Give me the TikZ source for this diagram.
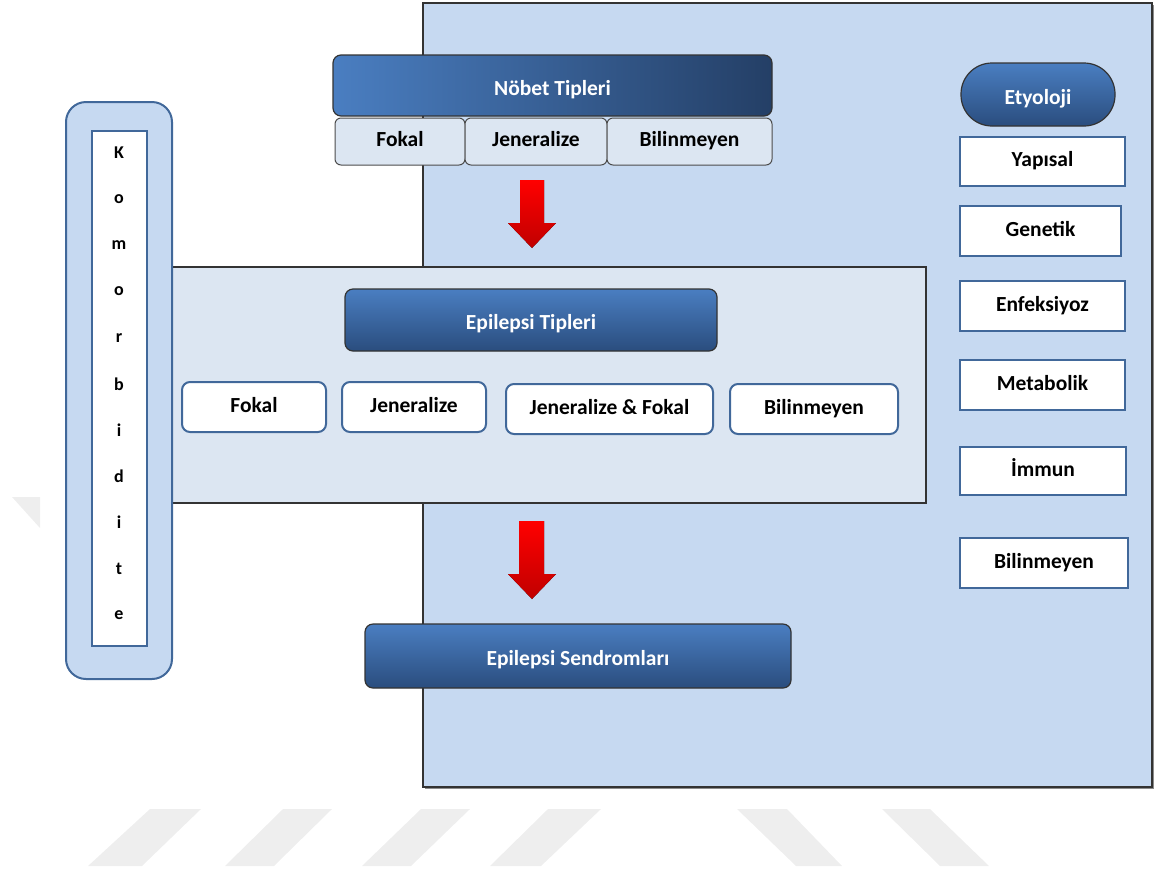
\documentclass[tikz,border=0pt]{standalone}
\usepackage{fontspec}
\setmainfont{Carlito}
\usetikzlibrary{positioning}

\definecolor{panelblue}{HTML}{C6D9F1}
\definecolor{lightpanel}{HTML}{DCE6F2}
\definecolor{boxedge}{HTML}{41689A}
\definecolor{headtop}{HTML}{4A7EC1}
\definecolor{headbot}{HTML}{2A4D7E}
\definecolor{headright}{HTML}{243F66}
\definecolor{arrowtop}{HTML}{FF0000}
\definecolor{arrowbot}{HTML}{C00000}
\definecolor{wmark}{HTML}{EEEEEE}

\tikzset{
  lbl/.style={font=\bfseries\fontsize{21.5}{24}\selectfont, text height=10pt, text depth=0pt},
  headbox/.style={lbl, text height=19pt, draw=black!80, line width=1.2pt, rounded corners=8pt,
    top color=headtop, bottom color=headbot, text=white, inner sep=0pt},
  nobetbox/.style={headbox, left color=headtop, right color=headright},
  subbox/.style={lbl, draw=black!70, line width=1pt, fill=lightpanel,
    rounded corners=6pt, inner sep=0pt},
  typebox/.style={lbl, draw=boxedge, line width=2pt, fill=white,
    rounded corners=8pt, inner sep=0pt},
  etiobox/.style={lbl, draw=boxedge, line width=2.5pt, fill=white, inner sep=0pt},
  redarrow/.style={top color=arrowtop, bottom color=arrowbot},
}

\begin{document}
\begin{tikzpicture}[x=1pt,y=-1pt]
\useasboundingbox (0,0) rectangle (1155,871);

% watermark
\fill[wmark] (150,809) -- (201,809) -- (142,866) -- (88,866) -- cycle;
\fill[wmark] (283,809) -- (332,809) -- (274,866) -- (225,866) -- cycle;
\fill[wmark] (421,809) -- (470,809) -- (411,866) -- (362,866) -- cycle;
\fill[wmark] (548,809) -- (601,809) -- (541,866) -- (490,866) -- cycle;
\fill[wmark] (737,809) -- (787,809) -- (842,866) -- (796,866) -- cycle;
\fill[wmark] (882,809) -- (930,809) -- (989,866) -- (940,866) -- cycle;
\fill[wmark] (12,497) -- (40,497) -- (40,528) -- cycle;

% panels
\fill[black!45] (425,5) rectangle (1154,789);
\draw[fill=panelblue, draw=black!80, line width=1.5pt] (423,3) rectangle (1152,787);
\draw[fill=lightpanel, draw=black!80, line width=1.2pt] (172,267) rectangle (926,503);

% Komorbidite
\draw[fill=panelblue, draw=boxedge, line width=2pt, rounded corners=20pt]
  (66,102) rectangle (172,679);
\draw[fill=white, draw=boxedge, line width=2.5pt] (92,131) rectangle (147,646);
\foreach \ch [count=\i from 0] in {K,o,m,o,r,b,i,d,i,t,e}
  \node[font=\bfseries\fontsize{18}{20}\selectfont] (kom\i) at (119,153+46.2*\i) {\ch};

% Nobet Tipleri
\node[nobetbox, minimum width=439pt, minimum height=61pt] (nobet) at (552.5,85.5) {Nöbet Tipleri};
\node[subbox, minimum width=130pt, minimum height=47pt] (nfokal) at (400,141.5) {Fokal};
\node[subbox, minimum width=142pt, minimum height=47pt] (ngen) at (536,141.5) {Jeneralize};
\node[subbox, minimum width=165pt, minimum height=47pt] (nbil) at (689.5,141.5) {Bilinmeyen};

% Epilepsi Tipleri
\node[headbox, minimum width=372pt, minimum height=62pt] (eptip) at (531,320) {Epilepsi Tipleri};
\node[typebox, minimum width=144pt, minimum height=50pt] (efokal) at (254,407) {Fokal};
\node[typebox, minimum width=144pt, minimum height=50pt] (egen) at (414,407) {Jeneralize};
\node[typebox, minimum width=207pt, minimum height=50pt] (egenfok) at (609.5,409) {Jeneralize \& Fokal};
\node[typebox, minimum width=168pt, minimum height=50pt] (ebil) at (814,409) {Bilinmeyen};

% Epilepsi Sendromlari
\node[headbox, minimum width=426pt, minimum height=64pt] (sendrom) at (578,656) {Epilepsi Sendromları};

% arrows
\fill[redarrow] (520,180) -- (544,180) -- (544,223) -- (556,223) -- (532,248)
  -- (508,223) -- (520,223) -- cycle;
\fill[redarrow] (519,521) -- (544,521) -- (544,574) -- (556,574) -- (532,599)
  -- (508,574) -- (519,574) -- cycle;

% Etyoloji
\node[headbox, rounded corners=31pt, minimum width=154pt, minimum height=63pt] (etyo) at (1038,94.5) {Etyoloji};
\node[etiobox, minimum width=165pt, minimum height=49pt] (yap) at (1042.5,161.5) {Yapısal};
\node[etiobox, minimum width=161pt, minimum height=50pt] (gen) at (1040.5,231) {Genetik};
\node[etiobox, minimum width=165pt, minimum height=50pt] (enf) at (1042.5,306) {Enfeksiyoz};
\node[etiobox, minimum width=165pt, minimum height=50pt] (met) at (1042.5,385) {Metabolik};
\node[etiobox, minimum width=166pt, minimum height=48pt] (imm) at (1043,471) {İmmun};
\node[etiobox, minimum width=168pt, minimum height=50pt] (bil) at (1044,563) {Bilinmeyen};
\end{tikzpicture}
\end{document}
